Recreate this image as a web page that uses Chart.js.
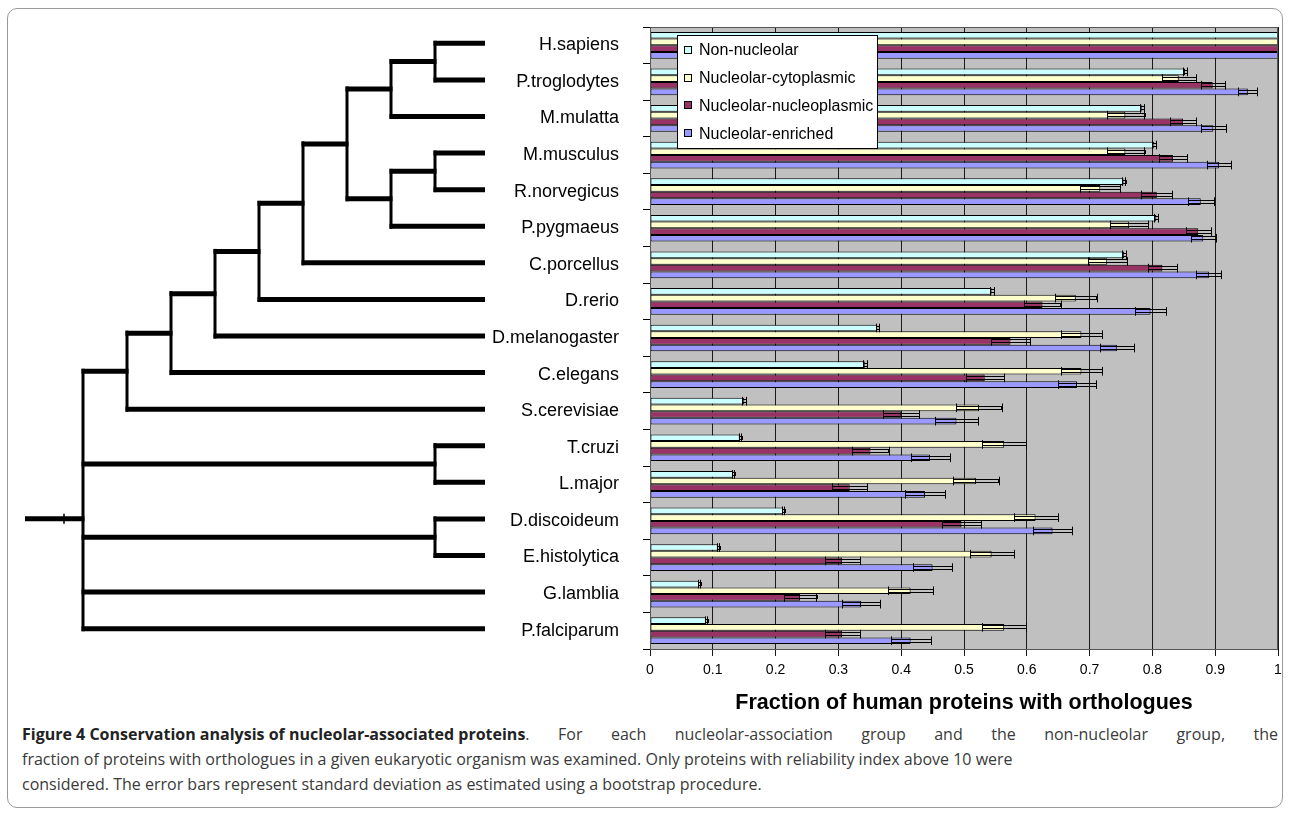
<!DOCTYPE html>
<html>
<head>
<meta charset="utf-8">
<title>Conservation analysis of nucleolar-associated proteins</title>
<script src="https://cdn.jsdelivr.net/npm/chart.js@4.4.0/dist/chart.umd.min.js"></script>
<style>
    html, body { margin: 0; padding: 0; background: #fff; }
    #page { position: relative; width: 1290px; height: 815px; overflow: hidden; }
    #frame { position: absolute; left: 7px; top: 8px; width: 1274px; height: 798px; border: 1px solid #9a9a9a; border-radius: 10px; }
    #chartBox { position: absolute; left: 0; top: 0; width: 1290px; height: 720px; }
    #caption { position: absolute; left: 22px; top: 722px; width: 1256px; font-family: "Open Sans", sans-serif; font-size: 16px; line-height: 25px; color: #3a3a3a; white-space: nowrap; }
    #caption b { color: #222; display: inline-block; }
    #caption .full { text-align: justify; text-align-last: justify; }
</style>
</head>
<body>
<div id="page">
    <div id="frame"></div>
    <div id="chartBox"><canvas id="consChart" width="1290" height="720"></canvas></div>
    <div id="caption">
        <div class="full"><b>Figure 4 Conservation analysis of nucleolar-associated proteins</b>. For each nucleolar-association group and the non-nucleolar group, the</div>
        <div>fraction of proteins with orthologues in a given eukaryotic organism was examined. Only proteins with reliability index above 10 were</div>
        <div>considered. The error bars represent standard deviation as estimated using a bootstrap procedure.</div>
    </div>
</div>
<script>
// organisms, top to bottom
const organisms = ['H.sapiens', 'P.troglodytes', 'M.mulatta', 'M.musculus', 'R.norvegicus', 'P.pygmaeus',
    'C.porcellus', 'D.rerio', 'D.melanogaster', 'C.elegans', 'S.cerevisiae', 'T.cruzi', 'L.major',
    'D.discoideum', 'E.histolytica', 'G.lamblia', 'P.falciparum'];

const groupNames = ['Non-nucleolar', 'Nucleolar-cytoplasmic', 'Nucleolar-nucleoplasmic', 'Nucleolar-enriched'];

// fraction with orthologues
const nonNucleolar = [1, 0.852, 0.783, 0.803, 0.754, 0.806, 0.755, 0.544, 0.362, 0.342, 0.150, 0.143, 0.132, 0.212, 0.108, 0.078, 0.089];
const cytoplasmic  = [1, 0.842, 0.757, 0.757, 0.717, 0.763, 0.728, 0.678, 0.687, 0.687, 0.524, 0.564, 0.519, 0.614, 0.544, 0.415, 0.564];
const nucleoplasm  = [1, 0.896, 0.849, 0.833, 0.807, 0.873, 0.816, 0.625, 0.574, 0.533, 0.400, 0.351, 0.318, 0.496, 0.306, 0.239, 0.306];
const enriched     = [1, 0.952, 0.897, 0.906, 0.877, 0.881, 0.890, 0.797, 0.744, 0.680, 0.488, 0.446, 0.438, 0.641, 0.450, 0.336, 0.415];

// bootstrap standard deviations
const sdNonNucleolar = [0, 0.003, 0.003, 0.003, 0.003, 0.003, 0.003, 0.003, 0.002, 0.003, 0.003, 0.002, 0.002, 0.002, 0.002, 0.002, 0.002];
const sdCytoplasmic  = [0, 0.027, 0.030, 0.030, 0.032, 0.030, 0.031, 0.033, 0.033, 0.033, 0.036, 0.035, 0.036, 0.035, 0.035, 0.036, 0.035];
const sdNucleoplasm  = [0, 0.019, 0.021, 0.022, 0.025, 0.020, 0.023, 0.029, 0.031, 0.030, 0.029, 0.029, 0.028, 0.031, 0.028, 0.026, 0.028];
const sdEnriched     = [0, 0.015, 0.020, 0.019, 0.021, 0.020, 0.020, 0.025, 0.027, 0.030, 0.034, 0.031, 0.032, 0.031, 0.031, 0.030, 0.032];

const xTicks = [0, 0.1, 0.2, 0.3, 0.4, 0.5, 0.6, 0.7, 0.8, 0.9, 1];

// species tree (lv = depth of the node, leaves are organism names)
const tree = { lv: 0, kids: [
    { lv: 1, kids: [
        { lv: 2, kids: [
            { lv: 3, kids: [
                { lv: 4, kids: [
                    { lv: 5, kids: [
                        { lv: 6, kids: [
                            { lv: 7, kids: [{ lv: 8, kids: ['H.sapiens', 'P.troglodytes'] }, 'M.mulatta'] },
                            { lv: 7, kids: [{ lv: 8, kids: ['M.musculus', 'R.norvegicus'] }, 'P.pygmaeus'] }
                        ] },
                        'C.porcellus'] },
                    'D.rerio'] },
                'D.melanogaster'] },
            'C.elegans'] },
        'S.cerevisiae'] },
    { lv: 8, kids: ['T.cruzi', 'L.major'] },
    { lv: 8, kids: ['D.discoideum', 'E.histolytica'] },
    'G.lamblia',
    'P.falciparum'
] };

const colors = ['#ccffff', '#ffffcc', '#993366', '#9999ff'];
const seriesValues = [nonNucleolar, cytoplasmic, nucleoplasm, enriched];
const seriesSd = [sdNonNucleolar, sdCytoplasmic, sdNucleoplasm, sdEnriched];

// gray plot background and frame
const plotBg = {
    id: 'plotBg',
    beforeDraw(chart) {
        const { ctx, chartArea: a } = chart;
        ctx.save();
        ctx.fillStyle = '#c0c0c0';
        ctx.fillRect(a.left, a.top, a.right - a.left, a.bottom - a.top);
        ctx.restore();
    },
    afterDatasetsDraw(chart) {
        const { ctx, chartArea: a } = chart;
        ctx.save();
        ctx.strokeStyle = '#555';
        ctx.lineWidth = 1;
        ctx.strokeRect(a.left + 0.5, a.top + 0.5, a.right - a.left - 1, a.bottom - a.top);
        ctx.restore();
    }
};

// error bars centred on the bar end
const errorBars = {
    id: 'errorBars',
    afterDatasetsDraw(chart) {
        const ctx = chart.ctx;
        const xs = chart.scales.x;
        ctx.save();
        ctx.strokeStyle = '#000';
        ctx.lineWidth = 1;
        chart.data.datasets.forEach((ds, di) => {
            const meta = chart.getDatasetMeta(di);
            meta.data.forEach((bar, i) => {
                const sd = seriesSd[di][i];
                if (!sd) return;
                const v = seriesValues[di][i];
                const lo = xs.getPixelForValue(v - sd);
                const hi = xs.getPixelForValue(v + sd);
                const h = bar.height / 2 + 1;
                ctx.strokeRect(Math.round(lo) + 0.5, Math.round(bar.y) - 1.5, Math.round(hi - lo), 3);
                [lo, hi].forEach(px => {
                    ctx.beginPath();
                    ctx.moveTo(Math.round(px) + 0.5, bar.y - h);
                    ctx.lineTo(Math.round(px) + 0.5, bar.y + h);
                    ctx.stroke();
                });
            });
        });
        ctx.restore();
    }
};

// legend box inside the plot and the species tree on the left
const extras = {
    id: 'extras',
    afterDraw(chart) {
        const { ctx, chartArea: a } = chart;
        const ys = chart.scales.y;

        // legend
        const lx = a.left + 27, ly = a.top + 8;
        ctx.save();
        ctx.fillStyle = '#fff';
        ctx.fillRect(lx, ly, 200, 113);
        ctx.strokeStyle = '#000';
        ctx.lineWidth = 1;
        ctx.strokeRect(lx + 0.5, ly + 0.5, 200, 113);
        ctx.font = '16px "Liberation Sans", Arial, sans-serif';
        ctx.textBaseline = 'middle';
        groupNames.forEach((name, i) => {
            const cy = ly + 15 + i * 27.7;
            ctx.fillStyle = colors[i];
            ctx.fillRect(lx + 7, Math.round(cy) - 4, 8, 8);
            ctx.strokeRect(lx + 7.5, Math.round(cy) - 3.5, 7, 7);
            ctx.fillStyle = '#000';
            ctx.fillText(name, lx + 22, cy + 1);
        });
        ctx.restore();

        // tree
        const lvX = lv => 83 + 44 * lv;
        const leafX = 485;
        ctx.save();
        ctx.strokeStyle = '#000';
        const hline = (x1, x2, y) => {
            ctx.lineWidth = 5;
            ctx.beginPath(); ctx.moveTo(x1, y); ctx.lineTo(x2, y); ctx.stroke();
        };
        const vline = (x, y1, y2) => {
            ctx.lineWidth = 3;
            ctx.beginPath(); ctx.moveTo(x, y1); ctx.lineTo(x, y2); ctx.stroke();
        };
        function walk(node) {
            if (typeof node === 'string') {
                return { x: leafX, y: ys.getPixelForValue(organisms.indexOf(node)) - 2, leaf: true };
            }
            const x = lvX(node.lv);
            const kids = node.kids.map(walk);
            kids.forEach(k => hline(x - 1.5, k.leaf ? k.x : k.x + 1.5, k.y));
            const ky = kids.map(k => k.y);
            vline(x, Math.min(...ky) - 2.5, Math.max(...ky) + 2.5);
            return { x: x, y: ky.reduce((s, v) => s + v, 0) / ky.length };
        }
        const root = walk(tree);
        hline(25, root.x + 1.5, root.y);
        ctx.lineWidth = 1.5;
        ctx.beginPath(); ctx.moveTo(64, root.y - 5); ctx.lineTo(64, root.y + 5); ctx.stroke();
        ctx.restore();
    }
};

const ctx = document.getElementById('consChart').getContext('2d');
new Chart(ctx, {
    type: 'bar',
    data: {
        labels: organisms,
        datasets: groupNames.map((name, i) => ({
            label: name,
            data: seriesValues[i],
            backgroundColor: colors[i],
            borderColor: '#000',
            borderWidth: 1,
            borderSkipped: false,
            barPercentage: 1.0,
            categoryPercentage: 0.73
        }))
    },
    options: {
        indexAxis: 'y',
        responsive: false,
        animation: false,
        devicePixelRatio: 1,
        layout: { padding: { left: 0, top: 27, right: 12, bottom: 0 } },
        plugins: {
            legend: { display: false },
            tooltip: { enabled: false }
        },
        scales: {
            x: {
                min: 0,
                max: 1,
                afterFit: s => { s.height = 71; },
                afterBuildTicks: s => { s.ticks = xTicks.map(v => ({ value: v })); },
                ticks: {
                    color: '#000',
                    padding: 6,
                    callback: v => String(Number(Number(v).toFixed(1))),
                    font: { family: '"Liberation Sans", Arial, sans-serif', size: 14 }
                },
                grid: { color: '#1a1a1a', lineWidth: 1, tickLength: 7 },
                border: { color: '#000', width: 1 },
                title: {
                    display: true,
                    text: 'Fraction of human proteins with orthologues',
                    color: '#000',
                    padding: { top: 0, bottom: 4 },
                    font: { family: '"Liberation Sans", Arial, sans-serif', size: 21.5, weight: 'bold' }
                }
            },
            y: {
                afterFit: s => {
                    s.width = 650;
                    s.paddingTop = 0;
                    s.paddingBottom = 0;
                },
                ticks: {
                    color: '#000',
                    padding: 24,
                    font: { family: '"Liberation Sans", Arial, sans-serif', size: 18 }
                },
                grid: { drawOnChartArea: false, color: '#000', tickLength: 7, offset: true },
                border: { color: '#000', width: 1 }
            }
        }
    },
    plugins: [plotBg, errorBars, extras]
});
</script>
</body>
</html>
